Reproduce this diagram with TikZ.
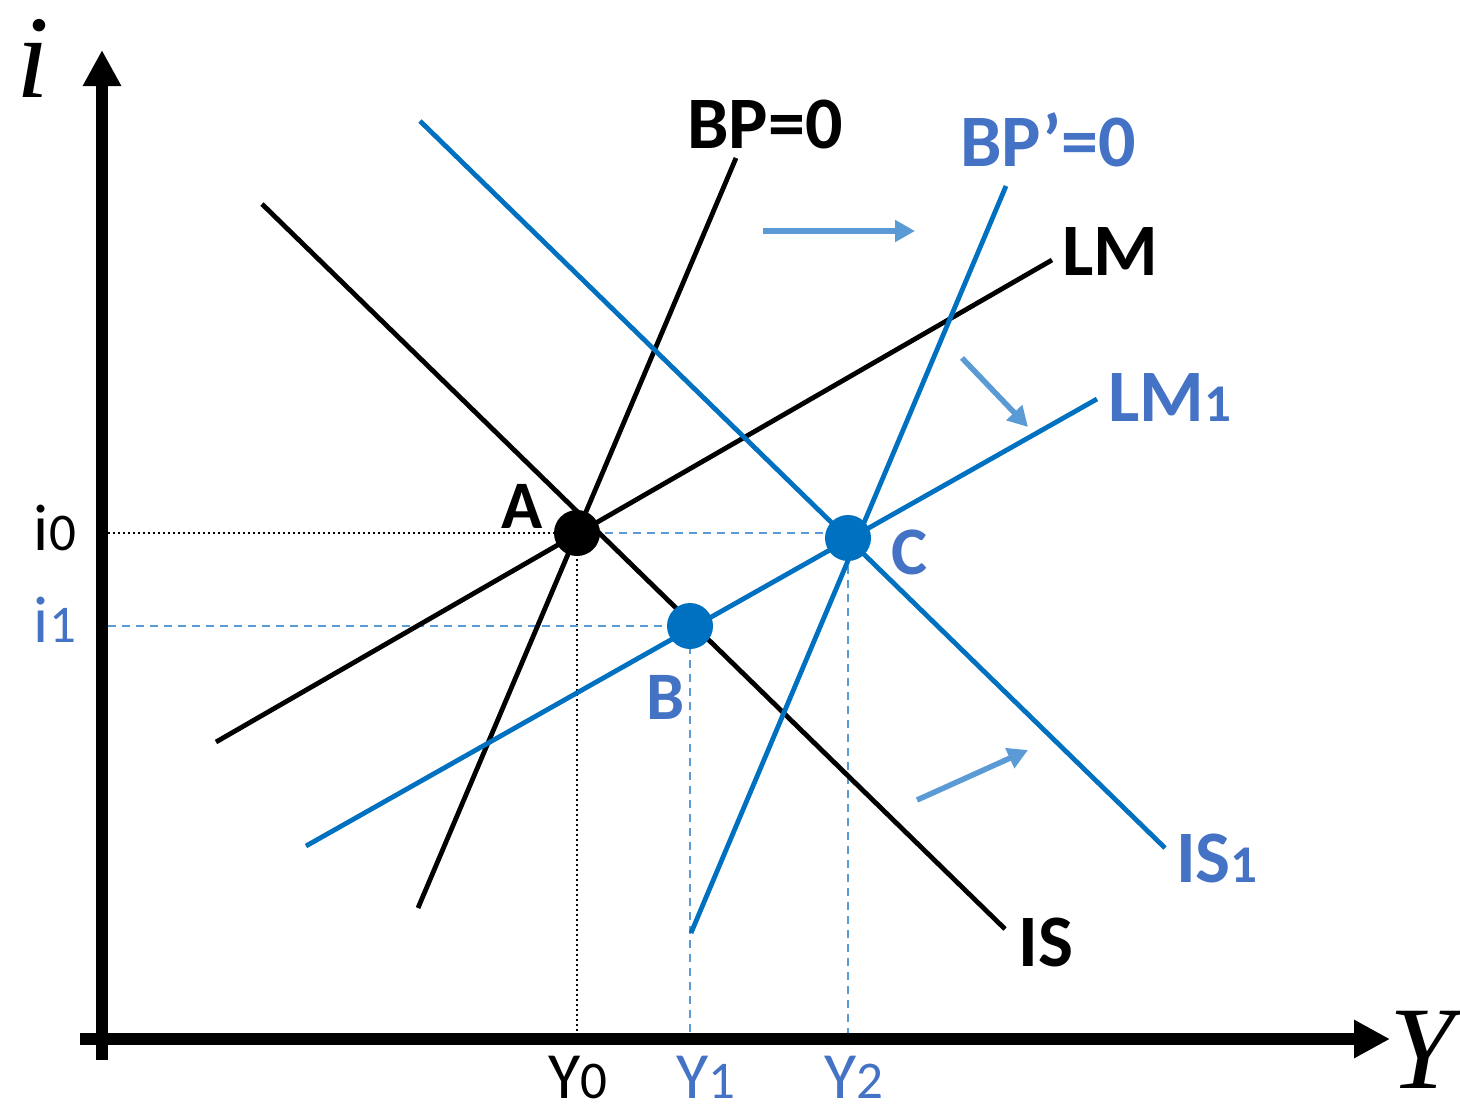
\documentclass[tikz,border=0pt]{standalone}
\usepackage{fontspec}
\setmainfont{Carlito}
\newfontfamily\axisfont{Liberation Serif}
\usetikzlibrary{arrows.meta}
\definecolor{lineblue}{HTML}{0070C0}
\definecolor{textblue}{HTML}{4472C4}
\definecolor{shiftblue}{HTML}{5B9BD5}
\tikzset{
  axis/.style={line width=12pt,-{Triangle[length=36pt,width=36pt]}},
  curve/.style={line width=4.8pt,draw=black},
  newcurve/.style={line width=4.8pt,draw=lineblue},
  shiftarrow/.style={line width=5.5pt,draw=shiftblue,-{Triangle[length=20pt,width=21pt]}},
  guide/.style={line width=1.8pt,dash pattern=on 2pt off 3pt},
  newguide/.style={line width=1.6pt,draw=shiftblue,dash pattern=on 8pt off 6pt},
  eqpoint/.style={circle,fill=black,inner sep=0pt,minimum size=46pt},
  curvelabel/.style={font=\bfseries\fontsize{74}{80}\selectfont},
  pointlabel/.style={font=\bfseries\fontsize{68}{72}\selectfont},
  ticklabel/.style={font=\fontsize{66}{70}\selectfont,inner sep=0pt},
  axislabel/.style={font=\axisfont\itshape\fontsize{118}{124}\selectfont,inner sep=0pt},
}
\newcommand{\low}[1]{{\fontsize{53}{60}\selectfont #1}}

\begin{document}
\begin{tikzpicture}[x=1pt,y=-1pt]
  \useasboundingbox (0,0) rectangle (1460,1109);

  % Equilibria and the guide lines that hang off them.
  \coordinate (pA) at (577,533); \coordinate (pB) at (690,626); \coordinate (pC) at (848,538);
  \coordinate (i0) at (108,533); \coordinate (i1) at (108,626);
  \coordinate (Y0) at (577,1039); \coordinate (Y1) at (690,1039); \coordinate (Y2) at (848,1039);
  \coordinate (AC) at (848,533);
  \draw[guide] (i0) -- (pA) -- (Y0);
  \draw[newguide] (pA) -- (AC);
  \draw[newguide] (i1) -- (pB) -- (Y1);
  \draw[newguide] (pC) -- (Y2);

  % Initial curves (black) and shifted curves (blue).
  \coordinate (is-a) at (262,204); \coordinate (is-b) at (1005,929);
  \coordinate (bp-a) at (418,908); \coordinate (bp-b) at (736,158);
  \coordinate (lm-a) at (216,742); \coordinate (lm-b) at (1052,260);
  \coordinate (is1-a) at (420,121); \coordinate (is1-b) at (1165,848);
  \coordinate (bp1-a) at (691,933); \coordinate (bp1-b) at (1006,186);
  \coordinate (lm1-a) at (306,846); \coordinate (lm1-b) at (1097,399);
  \draw[curve] (is-a) -- (is-b);
  \draw[curve] (bp-a) -- (bp-b);
  \draw[curve] (lm-a) -- (lm-b);
  \draw[newcurve] (is1-a) -- (is1-b);
  \draw[newcurve] (bp1-a) -- (bp1-b);
  \draw[newcurve] (lm1-a) -- (lm1-b);

  % Points on top of the curves.
  \node[eqpoint] (A) at (pA) {};
  \node[eqpoint,fill=lineblue] (B) at (pB) {};
  \node[eqpoint,fill=lineblue] (C) at (pC) {};

  % Shift arrows.
  \coordinate (s1a) at (763,231); \coordinate (s1b) at (915,231);
  \coordinate (s2a) at (962,358); \coordinate (s2b) at (1028,427);
  \coordinate (s3a) at (917,800); \coordinate (s3b) at (1028,750);
  \draw[shiftarrow] (s1a) -- (s1b);
  \draw[shiftarrow] (s2a) -- (s2b);
  \draw[shiftarrow] (s3a) -- (s3b);

  % Axes.
  \coordinate (o-y) at (102,1060); \coordinate (top) at (102,50);
  \coordinate (o-x) at (80,1039); \coordinate (right) at (1390,1039);
  \draw[axis] (o-y) -- (top);
  \draw[axis] (o-x) -- (right);
  \node[axislabel] (ilab) at (33,58) {i};
  \node[axislabel] (Ylab) at (1422,1050) {Y};

  % Labels.
  \node[curvelabel] (bpl) at (765,124) {BP=0};
  \node[curvelabel,text=textblue] (bp1l) at (1048,140) {BP’=0};
  \node[curvelabel] (lml) at (1110,252) {LM};
  \node[curvelabel,text=textblue] (lm1l) at (1170,398) {LM\low{1}};
  \node[curvelabel,text=textblue] (is1l) at (1217,858) {IS\low{1}};
  \node[curvelabel] (isl) at (1046,942) {IS};
  \node[pointlabel] (Al) at (522,506) {A};
  \node[pointlabel,text=textblue] (Bl) at (666,697) {B};
  \node[pointlabel,text=textblue] (Cl) at (909,552) {C};
  \node[ticklabel] (i0l) at (55,528) {i\low{0}};
  \node[ticklabel,text=textblue] (i1l) at (55,620) {i\low{1}};
  \node[ticklabel] (Y0l) at (578,1077) {Y\low{0}};
  \node[ticklabel,text=textblue] (Y1l) at (706,1077) {Y\low{1}};
  \node[ticklabel,text=textblue] (Y2l) at (854,1077) {Y\low{2}};
\end{tikzpicture}
\end{document}
